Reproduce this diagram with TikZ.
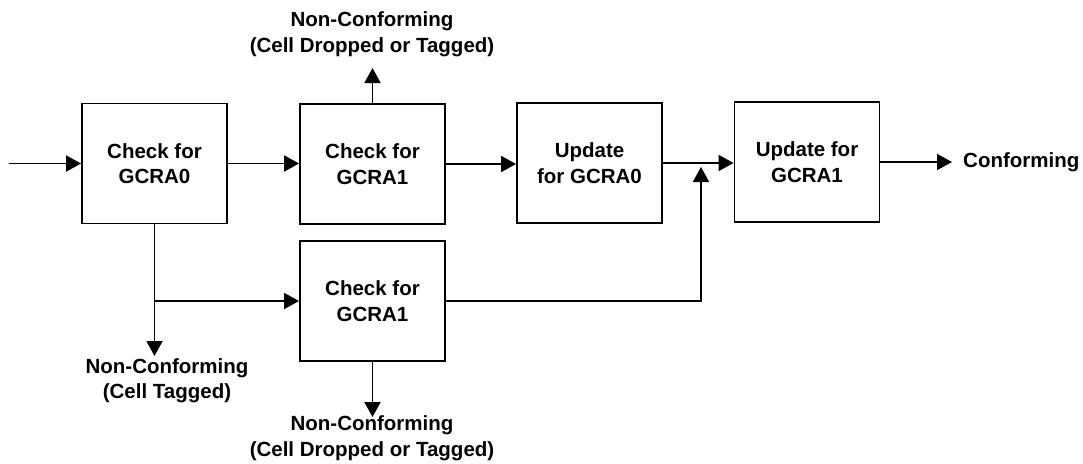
\documentclass[tikz,border=0pt]{standalone}
\usepackage{fontspec}
\setmainfont{Liberation Sans}
\usetikzlibrary{arrows.meta,calc}
\tikzset{
  blk/.style={draw, line width=1.9pt, minimum width=145pt, minimum height=120pt, inner sep=0pt, align=center},
  lbl/.style={align=center, inner sep=0pt},
  arr/.style={line width=1.9pt, -{Triangle[length=15pt,width=16pt]}},
  ln/.style={line width=1.9pt}
}
\begin{document}
\begin{tikzpicture}[x=1pt,y=-1pt,font=\bfseries\fontsize{20.5}{25.5}\selectfont]
\useasboundingbox (0,0) rectangle (1083,463);
\node[blk] (A) at (154.5,163.5) {Check for\\GCRA0};
\node[blk] (B) at (372.5,164) {Check for\\GCRA1};
\node[blk] (C) at (589.5,163) {Update\\for GCRA0};
\node[blk] (D) at (807,162) {Update for\\GCRA1};
\node[blk] (E) at (372.5,301) {Check for\\GCRA1};
\node[lbl] (lt) at (372,34) {Non-Conforming\\(Cell Dropped or Tagged)};
\node[lbl] (lb) at (372,438) {Non-Conforming\\(Cell Dropped or Tagged)};
\node[lbl] (ll) at (167,380.5) {Non-Conforming\\(Cell Tagged)};
\node[lbl, anchor=west] (conf) at (963,162) {Conforming};
\coordinate (in) at (9,163.5);
\coordinate (T) at (372.5,68);
\coordinate (Bt) at (372.5,417);
\coordinate (Q) at (154.5,356);
\coordinate (J) at (701,167);
\coordinate (out) at (952,162);
\draw[arr] (in) -- (A.west);
\draw[arr] (A.east) -- (A.east -| B.west);
\draw[arr] (B.east) -- (B.east -| C.west);
\draw[arr] (C.east) -- (C.east -| D.west);
\draw[arr] (D.east) -- (out);
\draw[arr] (B.north) -- (T);
\draw[arr] (E.south) -- (Bt);
\draw[arr] (A.south) -- (Q);
\draw[arr] (A.south |- E.west) -- (E.west);
\draw[arr] (E.east) -| (J);
\end{tikzpicture}
\end{document}
